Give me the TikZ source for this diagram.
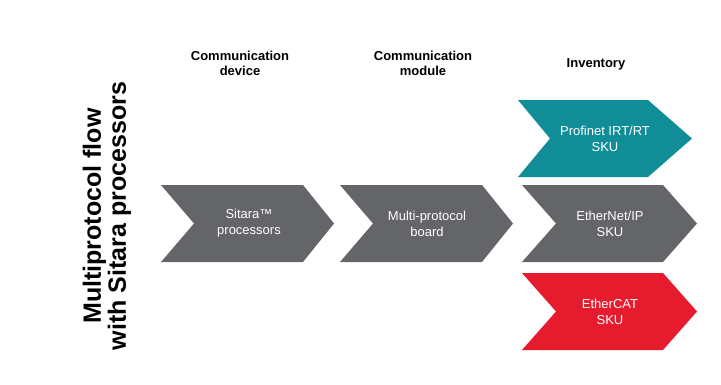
\documentclass[tikz,border=0pt]{standalone}
\usepackage{fontspec}
\setmainfont{Liberation Sans}
\definecolor{sitaragray}{RGB}{100,101,105}
\definecolor{profinetteal}{RGB}{17,141,151}
\definecolor{ethercatred}{RGB}{230,27,45}

\begin{document}
\begin{tikzpicture}[x=1pt,y=-1pt,
        heading/.style={align=center,font=\bfseries\fontsize{13}{15}\selectfont},
        chevlabel/.style={align=center,text=white,font=\fontsize{13}{16}\selectfont}]
        \useasboundingbox (0,0) rectangle (721,384);

        % chevrons: left / tip / top / notch / tip depth / colour
        \foreach \l/\r/\t/\nd/\td/\c in {
                161/334/185/33/31/sitaragray, 340/513/185/33/31/sitaragray,
                518/692/100/32/44/profinetteal, 522/697/185/34/34/sitaragray,
                522/697/273/34/34/ethercatred} {
            \fill[\c] (\l,\t) -- (\r-\td,\t) -- (\r,\t+38.5) -- (\r-\td,\t+77)
                -- (\l,\t+77) -- (\l+\nd,\t+38.5) -- cycle;
        }

        \node[rotate=90,align=center,font=\bfseries\fontsize{25}{25}\selectfont]
            (title) at (107,216) {Multiprotocol flow\\with Sitara processors};

        \node[heading] (devicehead) at (240,63.5) {Communication\\device};
        \node[heading] (modulehead) at (423,63.5) {Communication\\module};
        \node[heading] (inventoryhead) at (596,64) {Inventory};

        \node[chevlabel] (sitara) at (249,223.5) {Sitara™\\processors};
        \node[chevlabel] (board) at (427,223.5) {Multi-protocol\\board};
        \node[chevlabel] (profinet) at (605,138.5) {Profinet IRT/RT\\SKU};
        \node[chevlabel] (ethernetip) at (610,223.5) {EtherNet/IP\\SKU};
        \node[chevlabel] (ethercat) at (610,311.5) {EtherCAT\\SKU};
    \end{tikzpicture}
\end{document}
